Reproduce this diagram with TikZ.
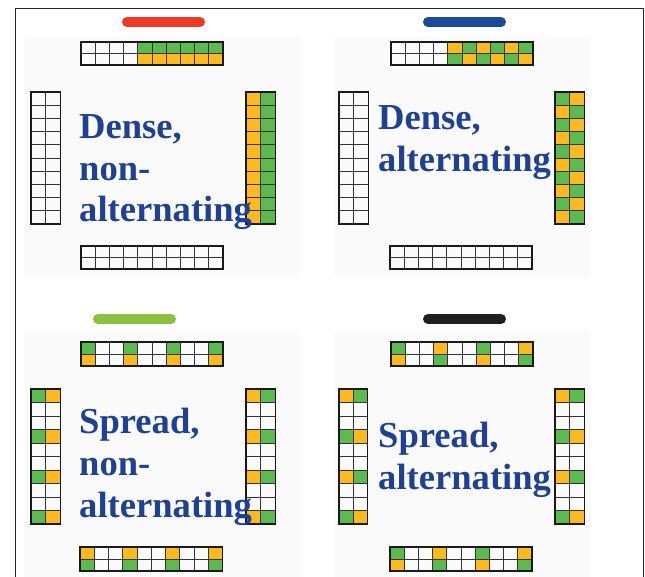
\documentclass[tikz,border=0pt]{standalone}
\usepackage{fontspec}
\setmainfont{Liberation Serif}
\definecolor{gr}{HTML}{5DBA50}
\definecolor{og}{HTML}{FDB91E}
\definecolor{barred}{HTML}{EE3A24}
\definecolor{barblue}{HTML}{1A4A9C}
\definecolor{bargreen}{HTML}{8DC03F}
\definecolor{barblack}{HTML}{231F20}
\definecolor{txtblue}{HTML}{1E4194}
\definecolor{panel}{HTML}{FAFAFA}
\newcommand\fillcell[7]{\fill[#7] ({#1+#5*#3},{#2+#6*#4}) rectangle ++(#3,#4);}
\newcommand\gridlines[6]{%
  \foreach \k in {1,...,#3} {\draw[cellline] ({#1+\k*#5},#2) -- ++(0,{#4*#6});}
  \foreach \k in {1,...,#4} {\draw[cellline] (#1,{#2+\k*#6}) -- ++({#3*#5},0);}
  \draw[outerline] (#1,#2) rectangle ++({#3*#5},{#4*#6});}
\begin{document}
\begin{tikzpicture}[x=1pt,y=-1pt,
  cellline/.style={draw=black!80,line width=0.7pt},
  outerline/.style={draw=black!90,line width=1.1pt},
  bar/.style={line width=10pt,line cap=round},
  lbl/.style={anchor=base west,inner sep=0pt,text=txtblue,font=\fontsize{36.6}{41}\selectfont\bfseries},
  frameline/.style={draw=black!85,line width=0.8pt}]
\useasboundingbox (0,0) rectangle (645,577);
% panels
\fill[panel] (25,37) rectangle (300,278);
\fill[panel] (335,37) rectangle (590,278);
\fill[panel] (25,330) rectangle (300,577);
\fill[panel] (335,330) rectangle (590,577);
% frame
\draw[frameline] (15,577) -- (15,8) -- (643,8) -- (643,577);
% bars
\draw[bar,barred] (127,22) -- (200,22);
\draw[bar,barblue] (428,22) -- (501,22);
\draw[bar,bargreen] (98,319) -- (171,319);
\draw[bar,barblack] (428,319) -- (501,319);

% ===== Top-left: dense, non-alternating
\foreach \c in {4,...,9} {\fillcell{81}{42}{14.2}{11.5}{\c}{0}{gr}\fillcell{81}{42}{14.2}{11.5}{\c}{1}{og}}
\gridlines{81}{42}{10}{2}{14.2}{11.5}
\gridlines{31}{92}{2}{10}{14.8}{13.2}
\foreach \r in {0,...,9} {\fillcell{246}{92}{14.8}{13.2}{0}{\r}{og}\fillcell{246}{92}{14.8}{13.2}{1}{\r}{gr}}
\gridlines{246}{92}{2}{10}{14.8}{13.2}
\gridlines{81}{246}{10}{2}{14.2}{11.5}
\node[lbl] (tl1) at (79,139) {Dense,};
\node[lbl] (tl2) at (79,181) {non-};
\node[lbl] (tl3) at (79,222) {alternating};

% ===== Top-right: dense, alternating
\foreach \c in {4,6,8} {\fillcell{391}{42}{14.2}{11.5}{\c}{0}{og}\fillcell{391}{42}{14.2}{11.5}{\c}{1}{gr}}
\foreach \c in {5,7,9} {\fillcell{391}{42}{14.2}{11.5}{\c}{0}{gr}\fillcell{391}{42}{14.2}{11.5}{\c}{1}{og}}
\gridlines{391}{42}{10}{2}{14.2}{11.5}
\gridlines{339}{92}{2}{10}{14.6}{13.2}
\foreach \r in {0,2,4,6,8} {\fillcell{555}{92}{14.6}{13.2}{0}{\r}{gr}\fillcell{555}{92}{14.6}{13.2}{1}{\r}{og}}
\foreach \r in {1,3,5,7,9} {\fillcell{555}{92}{14.6}{13.2}{0}{\r}{og}\fillcell{555}{92}{14.6}{13.2}{1}{\r}{gr}}
\gridlines{555}{92}{2}{10}{14.6}{13.2}
\gridlines{390}{246}{10}{2}{14.2}{11.5}
\node[lbl] (tr1) at (378,130) {Dense,};
\node[lbl] (tr2) at (378,172) {alternating};

% ===== Bottom-left: spread, non-alternating
\foreach \c in {0,3,6,9} {\fillcell{81}{342}{14.2}{12}{\c}{0}{gr}\fillcell{81}{342}{14.2}{12}{\c}{1}{og}}
\gridlines{81}{342}{10}{2}{14.2}{12}
\foreach \r in {0,3,6,9} {\fillcell{31}{389}{14.6}{13.5}{0}{\r}{gr}\fillcell{31}{389}{14.6}{13.5}{1}{\r}{og}}
\gridlines{31}{389}{2}{10}{14.6}{13.5}
\foreach \r in {0,3,6,9} {\fillcell{246}{389}{14.6}{13.5}{0}{\r}{og}\fillcell{246}{389}{14.6}{13.5}{1}{\r}{gr}}
\gridlines{246}{389}{2}{10}{14.6}{13.5}
\foreach \c in {0,3,6,9} {\fillcell{80}{547}{14.25}{12}{\c}{0}{og}\fillcell{80}{547}{14.25}{12}{\c}{1}{gr}}
\gridlines{80}{547}{10}{2}{14.25}{12}
\node[lbl] (bl1) at (79,433) {Spread,};
\node[lbl] (bl2) at (79,475) {non-};
\node[lbl] (bl3) at (79,517) {alternating};

% ===== Bottom-right: spread, alternating
\foreach \c in {0,6} {\fillcell{391}{342}{14.2}{12}{\c}{0}{gr}\fillcell{391}{342}{14.2}{12}{\c}{1}{og}}
\foreach \c in {3,9} {\fillcell{391}{342}{14.2}{12}{\c}{0}{og}\fillcell{391}{342}{14.2}{12}{\c}{1}{gr}}
\gridlines{391}{342}{10}{2}{14.2}{12}
\foreach \r in {0,6} {\fillcell{339}{389}{14.2}{13.5}{0}{\r}{og}\fillcell{339}{389}{14.2}{13.5}{1}{\r}{gr}}
\foreach \r in {3,9} {\fillcell{339}{389}{14.2}{13.5}{0}{\r}{gr}\fillcell{339}{389}{14.2}{13.5}{1}{\r}{og}}
\gridlines{339}{389}{2}{10}{14.2}{13.5}
\foreach \r in {0,6} {\fillcell{555}{389}{14.6}{13.5}{0}{\r}{og}\fillcell{555}{389}{14.6}{13.5}{1}{\r}{gr}}
\foreach \r in {3,9} {\fillcell{555}{389}{14.6}{13.5}{0}{\r}{gr}\fillcell{555}{389}{14.6}{13.5}{1}{\r}{og}}
\gridlines{555}{389}{2}{10}{14.6}{13.5}
\foreach \c in {0,6} {\fillcell{390}{547}{14.2}{12}{\c}{0}{gr}\fillcell{390}{547}{14.2}{12}{\c}{1}{og}}
\foreach \c in {3,9} {\fillcell{390}{547}{14.2}{12}{\c}{0}{og}\fillcell{390}{547}{14.2}{12}{\c}{1}{gr}}
\gridlines{390}{547}{10}{2}{14.2}{12}
\node[lbl] (br1) at (378,447) {Spread,};
\node[lbl] (br2) at (378,489) {alternating};
\end{tikzpicture}
\end{document}
